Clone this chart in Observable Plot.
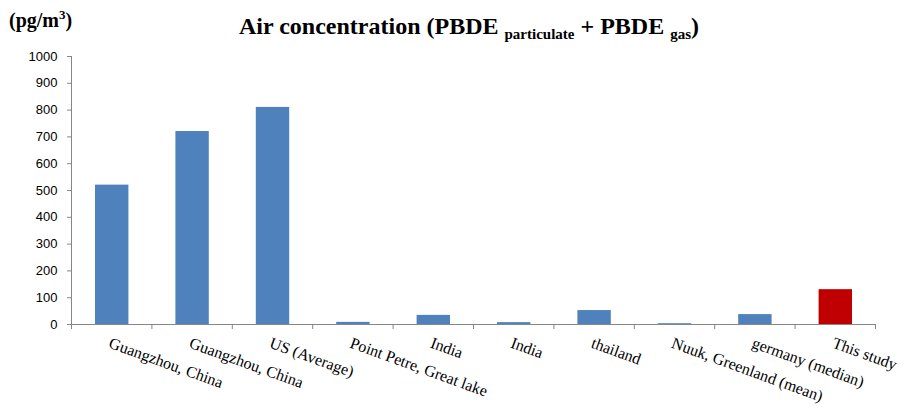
<!DOCTYPE html>
<html>
<head>
<meta charset="utf-8">
<script src="https://cdn.jsdelivr.net/npm/d3@7"></script>
<script src="https://cdn.jsdelivr.net/npm/@observablehq/plot@0.6"></script>
<style>
  html, body { margin: 0; padding: 0; background: #fff; }
  #wrap { position: relative; width: 910px; height: 414px; }
  #title { position: absolute; left: 0; width: 938px; top: 13px; text-align: center; white-space: nowrap;
           font-family: "Liberation Serif", serif; font-weight: bold; font-size: 24px; color: #000; }
  #title sub { font-size: 15px; vertical-align: -5px; }
  #unit { position: absolute; left: 9px; top: 7px; font-family: "Liberation Serif", serif;
          font-weight: bold; font-size: 20px; color: #000; }
  #unit sup { font-size: 13px; vertical-align: 8px; }
</style>
</head>
<body>
<div id="wrap">
  <div id="unit">(pg/m<sup>3</sup>)</div>
  <div id="title">Air concentration (PBDE <sub>particulate</sub> + PBDE <sub>gas</sub>)</div>
</div>
<script>
const categories = ["Guangzhou, China", "Guangzhou, China", "US (Average)", "Point Petre, Great lake",
  "India", "India", "thailand", "Nuuk, Greenland (mean)", "germany (median)", "This study"];
const values = [520, 720, 810, 8, 34, 7, 52, 3, 37, 130];
const highlight = [false, false, false, false, false, false, false, false, false, true];
const yTicks = [0, 100, 200, 300, 400, 500, 600, 700, 800, 900, 1000];

const data = categories.map((c, i) => ({i, c, v: values[i], h: highlight[i]}));
const bounds = d3.range(categories.length + 1);

const chart = Plot.plot({
  width: 910,
  height: 414,
  marginTop: 56,
  marginBottom: 90,
  marginLeft: 71,
  marginRight: 35,
  style: {fontFamily: "Liberation Sans, sans-serif", fontSize: "13px", color: "#000", background: "transparent"},
  x: {type: "linear", domain: [0, categories.length], axis: null},
  y: {domain: [0, 1000], axis: null},
  marks: [
    Plot.rectY(data, {x1: d => d.i, x2: d => d.i + 1, y: "v", insetLeft: 24, insetRight: 23,
      fill: d => d.h ? "#c00000" : "#4f81bd"}),
    Plot.axisY({ticks: yTicks, tickFormat: d3.format("d"), label: null, tickSize: 4, tickPadding: 10,
      stroke: "#868686", fontSize: 13}),
    Plot.axisX({ticks: bounds, tickFormat: () => "", label: null, tickSize: 5, stroke: "#868686"}),
    Plot.ruleY([0], {stroke: "#868686"}),
    Plot.frame({anchor: "left", stroke: "#868686"}),
    Plot.text(data, {x: d => d.i + 0.5, y: 0, text: "c", dy: 12, rotate: 20, textAnchor: "start",
      lineAnchor: "top", fontFamily: "Liberation Serif, serif", fontSize: 16, fill: "#000"})
  ]
});
document.getElementById("wrap").prepend(chart);
chart.style.position = "absolute";
chart.style.left = "0";
chart.style.top = "0";
</script>
</body>
</html>
